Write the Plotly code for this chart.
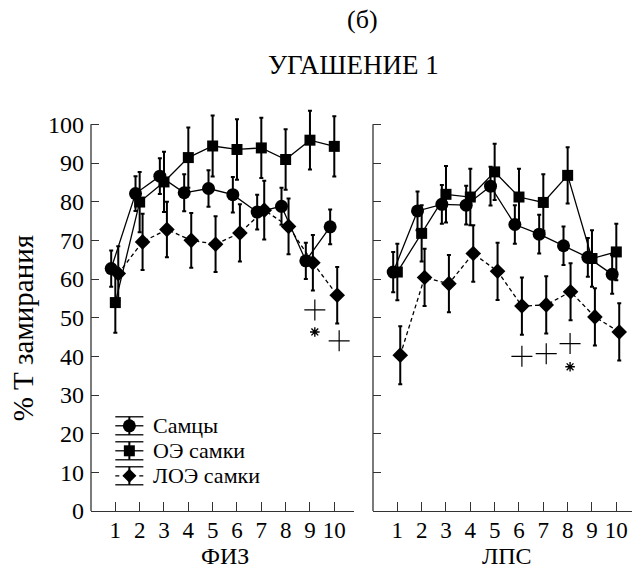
import plotly.graph_objects as go

# ---------------- data ----------------
trials = [1, 2, 3, 4, 5, 6, 7, 8, 9, 10]
tick_labels = ["1", "2", "3", "4", "5", "6", "7", "8", "9", "10"]
y_ticks = [0, 10, 20, 30, 40, 50, 60, 70, 80, 90, 100]

series_names = ["Самцы", "ОЭ самки", "ЛОЭ самки"]

# Panel ФИЗ
fiz_males = [62.7, 82.1, 86.6, 82.3, 83.4, 81.8, 77.3, 78.8, 64.7, 73.5]
fiz_males_err = [4.7, 4.5, 4.6, 4.8, 4.7, 4.6, 4.5, 4.8, 4.7, 4.5]
fiz_oe = [53.9, 79.9, 85.1, 91.4, 94.4, 93.5, 93.9, 90.9, 95.9, 94.3]
fiz_oe_err = [7.8, 7.8, 7.8, 7.8, 7.9, 7.8, 7.8, 7.8, 7.6, 7.8]
fiz_loe = [61.4, 69.6, 72.8, 70.0, 69.0, 71.9, 77.8, 73.6, 64.2, 55.8]
fiz_loe_err = [7.1, 7.3, 7.2, 7.1, 7.2, 7.4, 7.6, 7.2, 7.2, 7.3]

# Panel ЛПС
lps_males = [61.8, 77.6, 79.3, 79.1, 84.0, 74.1, 71.6, 68.6, 65.6, 61.2]
lps_males_err = [5.2, 5.0, 5.0, 5.0, 5.0, 5.0, 5.0, 5.0, 5.0, 5.0]
lps_oe = [61.8, 71.8, 81.9, 81.2, 87.7, 81.2, 79.8, 86.8, 65.3, 67.0]
lps_oe_err = [7.3, 7.3, 7.3, 7.3, 7.3, 7.3, 7.3, 7.3, 7.3, 7.3]
lps_loe = [40.3, 60.4, 58.8, 66.6, 62.0, 53.0, 53.3, 56.7, 50.2, 46.3]
lps_loe_err = [7.5, 7.4, 7.4, 7.3, 7.4, 7.4, 7.4, 7.4, 7.4, 7.4]

# significance marks: (x, y)
fiz_plus = [(9.2, 52.0), (10.2, 44.0)]
fiz_star = [(9.2, 46.3)]
lps_plus = [(6.12, 40.0), (7.12, 40.7), (8.1, 43.3)]
lps_star = [(8.1, 37.3)]

# ---------------- style ----------------
FONT = "Liberation Serif, Tinos, Times New Roman, DejaVu Serif, serif"
INK = "black"
AX = "#333333"
offsets = [-0.17, 0.0, 0.12]
symbols = ["circle", "square", "diamond"]
msizes = [13, 11, 12]
dashes = ["solid", "solid", "4px,3px"]

W, H = 632, 568
ML, MR, MT, MB = 91, 0, 104.7, 57.3
pw = W - ML - MR
ph = H - MT - MB


def px(xp):
    return (xp - ML) / pw


def py(yp):
    return (H - MB - yp) / ph


fig = go.Figure()

panels = [
    ("x", "y", [fiz_males, fiz_oe, fiz_loe], [fiz_males_err, fiz_oe_err, fiz_loe_err], fiz_plus, fiz_star),
    ("x2", "y2", [lps_males, lps_oe, lps_loe], [lps_males_err, lps_oe_err, lps_loe_err], lps_plus, lps_star),
]

for xa, ya, vals, errs, plus, star in panels:
    for i in range(3):
        fig.add_trace(go.Scatter(
            x=[t + offsets[i] for t in trials], y=vals[i],
            xaxis=xa, yaxis=ya,
            mode="lines+markers",
            name=series_names[i], showlegend=False,
            line=dict(color=INK, width=1.3, dash=dashes[i]),
            marker=dict(symbol=symbols[i], size=msizes[i], color=INK),
            error_y=dict(type="data", array=errs[i], color=INK, thickness=2, width=2),
            cliponaxis=False,
        ))
    fig.add_trace(go.Scatter(
        x=[p[0] for p in plus], y=[p[1] for p in plus], xaxis=xa, yaxis=ya,
        mode="markers", showlegend=False, hoverinfo="skip",
        marker=dict(symbol="cross-thin-open", size=15, color=INK, line=dict(color=INK, width=1.2)),
    ))
    fig.add_trace(go.Scatter(
        x=[p[0] for p in star], y=[p[1] for p in star], xaxis=xa, yaxis=ya,
        mode="markers", showlegend=False, hoverinfo="skip",
        marker=dict(symbol="asterisk-open", size=8, color=INK, line=dict(color=INK, width=1.4)),
    ))

xdom1 = [0, px(354)]
xdom2 = [px(373), 1]

xcommon = dict(
    tickmode="array", tickvals=trials, ticktext=tick_labels,
    ticks="inside", ticklen=9, tickwidth=1.3, tickcolor=AX,
    showline=True, linecolor=AX, linewidth=1.3,
    showgrid=False, zeroline=False, ticklabelstandoff=-2,
    tickfont=dict(family=FONT, size=23, color=INK),
)
ycommon = dict(
    range=[0, 105], tickmode="array", tickvals=y_ticks,
    ticks="inside", ticklen=8, tickwidth=1.3, tickcolor=AX,
    showline=False, showgrid=False, zeroline=False,
    tickfont=dict(family=FONT, size=24, color=INK),
)

shapes = [
    dict(type="line", xref="x domain", yref="y", x0=0, x1=0, y0=0, y1=100,
         line=dict(color=AX, width=1.3)),
    dict(type="line", xref="x2 domain", yref="y2", x0=0, x1=0, y0=0, y1=100,
         line=dict(color=AX, width=1.3)),
]
annotations = [
    dict(text="(б)", x=px(362), y=py(19), font=dict(family=FONT, size=26, color=INK)),
    dict(text="УГАШЕНИЕ 1", x=px(353), y=py(65), font=dict(family=FONT, size=27, color=INK)),
    dict(text="ФИЗ", x=px(225), y=py(555.5), font=dict(family=FONT, size=24, color=INK)),
    dict(text="ЛПС", x=px(507), y=py(555.5), font=dict(family=FONT, size=24, color=INK)),
    dict(text="% Т замирания", x=px(23), y=py(328), textangle=-90,
         font=dict(family=FONT, size=29, color=INK)),
]

# custom legend (symbol with error-bar caps, as in the reference)
leg_rows = [425.5, 450.5, 475.5]
lx0, lx1 = 115.3, 143.4
lxc = (lx0 + lx1) / 2
for i, yc in enumerate(leg_rows):
    dash = "solid" if i < 2 else "4px,4px"
    shapes.append(dict(type="line", xref="paper", yref="paper", x0=px(lx0), x1=px(lx1),
                       y0=py(yc), y1=py(yc), line=dict(color=INK, width=1.3, dash=dash)))
    for cy in (yc - 9, yc + 9):
        shapes.append(dict(type="line", xref="paper", yref="paper", x0=px(lx0), x1=px(lx1),
                           y0=py(cy), y1=py(cy), line=dict(color=INK, width=1.3)))
    shapes.append(dict(type="line", xref="paper", yref="paper", x0=px(lxc), x1=px(lxc),
                       y0=py(yc - 9), y1=py(yc + 9), line=dict(color=INK, width=2)))
    if symbols[i] == "circle":
        r = 6.5
        shapes.append(dict(type="circle", xref="paper", yref="paper", x0=px(lxc - r), x1=px(lxc + r),
                           y0=py(yc + r), y1=py(yc - r), fillcolor=INK, line=dict(width=0)))
    elif symbols[i] == "square":
        r = 5.5
        shapes.append(dict(type="rect", xref="paper", yref="paper", x0=px(lxc - r), x1=px(lxc + r),
                           y0=py(yc + r), y1=py(yc - r), fillcolor=INK, line=dict(width=0)))
    else:
        r = 7
        path = "M {} {} L {} {} L {} {} L {} {} Z".format(
            px(lxc - r), py(yc), px(lxc), py(yc - r), px(lxc + r), py(yc), px(lxc), py(yc + r))
        shapes.append(dict(type="path", xref="paper", yref="paper", path=path,
                           fillcolor=INK, line=dict(width=0)))
    annotations.append(dict(text=series_names[i], x=px(150.5), y=py(yc), xanchor="left",
                            font=dict(family=FONT, size=22, color=INK)))

for a in annotations:
    a.setdefault("xref", "paper")
    a.setdefault("yref", "paper")
    a.setdefault("showarrow", False)
    a.setdefault("xanchor", "center")
    a.setdefault("yanchor", "middle")

fig.update_layout(
    width=W, height=H,
    margin=dict(l=ML, r=MR, t=MT, b=MB, pad=0),
    paper_bgcolor="white", plot_bgcolor="white",
    xaxis=dict(domain=xdom1, range=[0, 10.81], anchor="y", **xcommon),
    xaxis2=dict(domain=xdom2, range=[0, 10.645], anchor="y2", **xcommon),
    yaxis=dict(domain=[0, 1], anchor="x", ticklabelstandoff=6, **ycommon),
    yaxis2=dict(domain=[0, 1], anchor="x2", showticklabels=False, **ycommon),
    showlegend=False,
    shapes=shapes,
    annotations=annotations,
)

fig.write_html("out.html")
